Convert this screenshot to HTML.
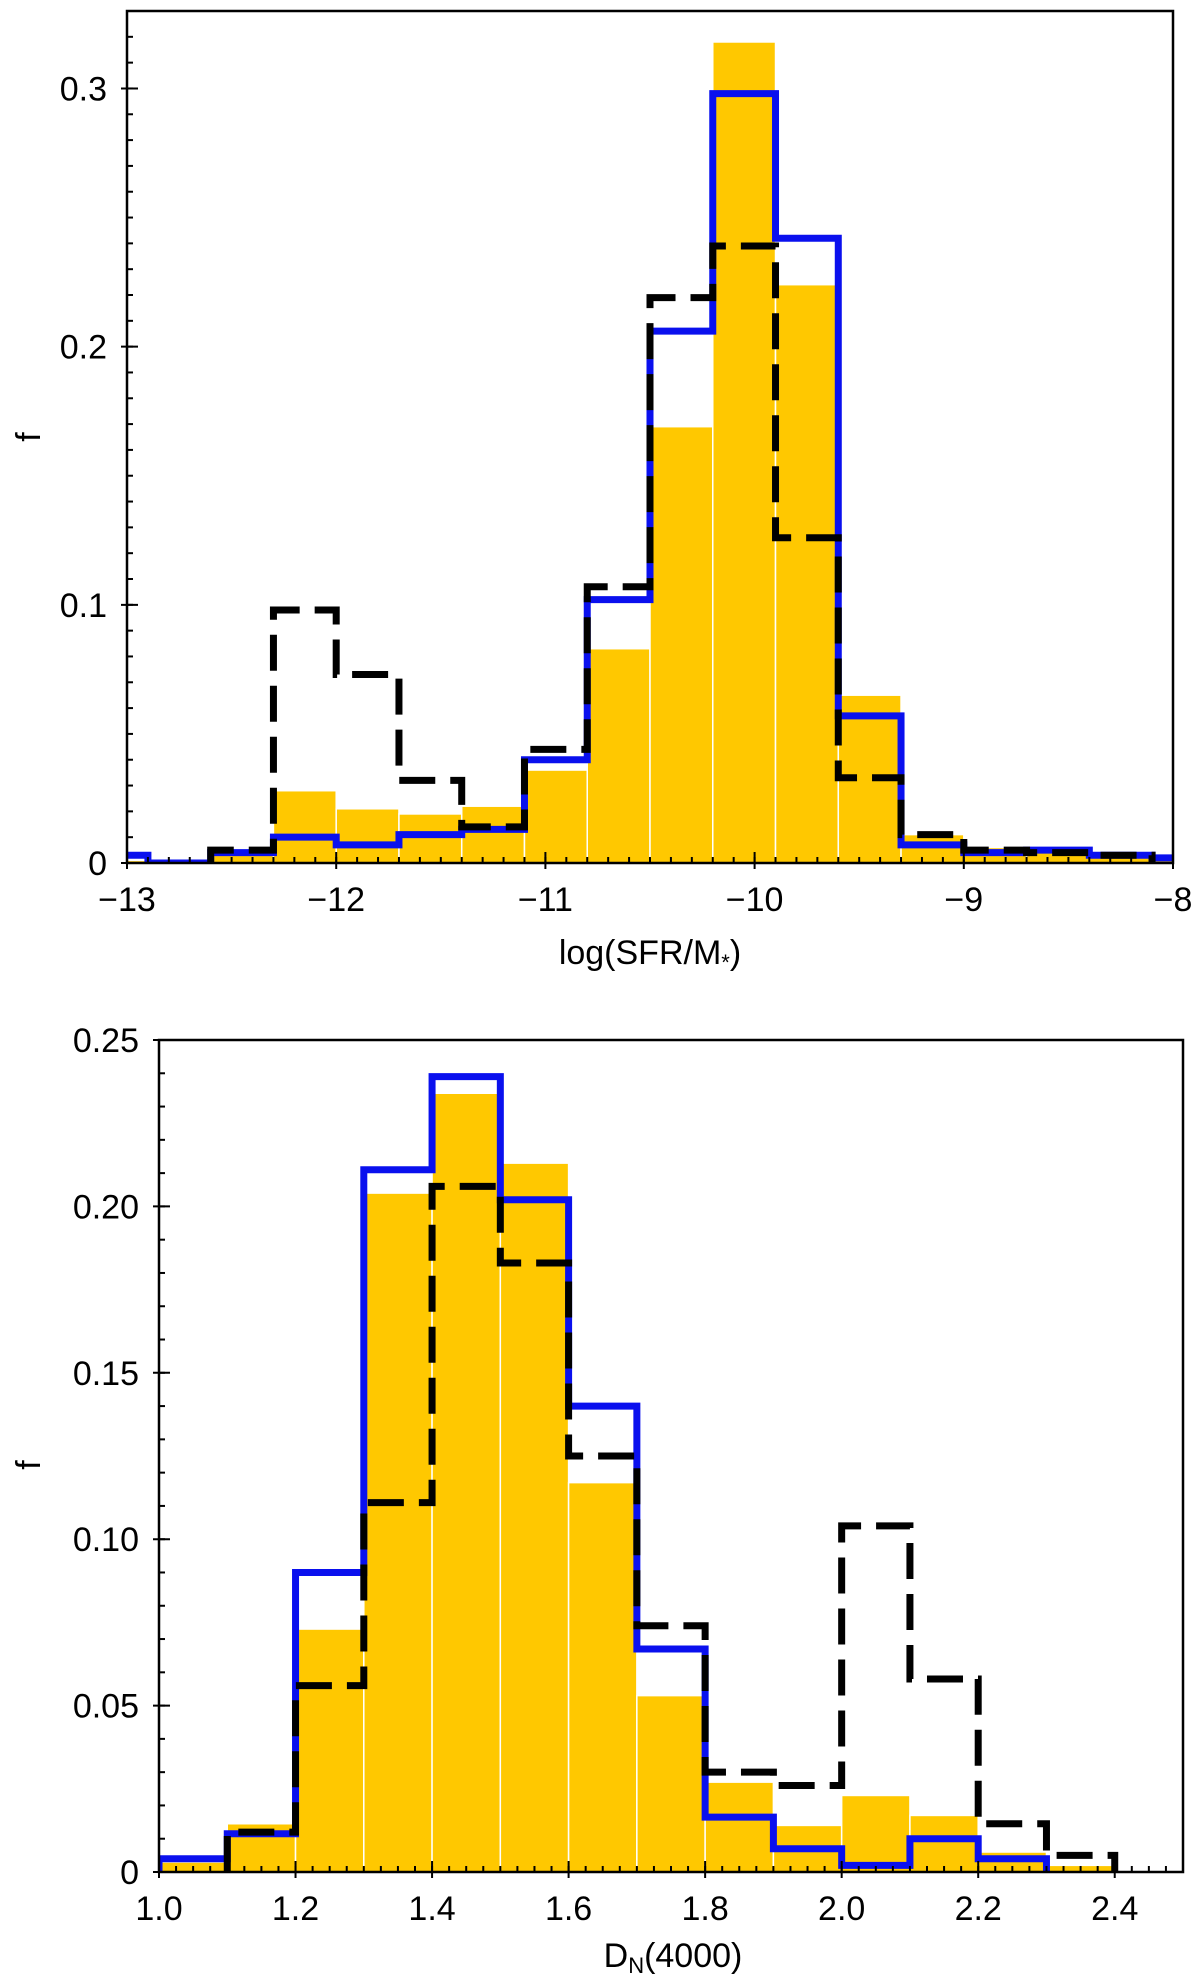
<!DOCTYPE html>
<html><head><meta charset="utf-8"><style>
html,body{margin:0;padding:0;background:#fff;}
svg{display:block;font-family:"Liberation Sans","DejaVu Sans",sans-serif;}
</style></head><body>
<svg id="chart" width="1200" height="1979" viewBox="0 0 1200 1979" xmlns="http://www.w3.org/2000/svg"></svg>
<script>
// ---- Panel 1 data: log(SFR/M*) ----
const ssfrEdgesStart = -13.2;
const ssfrBinWidth = 0.3;
const ssfrYellow = [0.001,0.001,0.003,0.028,0.021,0.019,0.022,0.036,0.083,0.169,0.318,0.224,0.065,0.011,0.006,0.004,0.003,0.002];
const ssfrBlue   = [0.003,0.000,0.004,0.010,0.007,0.011,0.013,0.040,0.102,0.206,0.298,0.242,0.057,0.007,0.004,0.005,0.003,0.002];
const ssfrBlackStart = -12.6;
const ssfrBlack  = [0.005,0.098,0.073,0.032,0.014,0.044,0.107,0.219,0.239,0.126,0.033,0.011,0.005,0.004,0.003];
const ssfrXTicks = [-13,-12,-11,-10,-9,-8];
const ssfrYTicks = [0,0.1,0.2,0.3];
const ssfrYTickLabels = ["0","0.1","0.2","0.3"];

// ---- Panel 2 data: D_N(4000) ----
const dnEdgesStart = 1.0;
const dnBinWidth = 0.1;
const dnYellow = [0.003,0.0145,0.073,0.204,0.234,0.213,0.117,0.053,0.027,0.014,0.023,0.017,0.006,0.002];
const dnBlue   = [0.004,0.0115,0.090,0.211,0.239,0.202,0.140,0.067,0.0165,0.007,0.002,0.010,0.004];
const dnBlackStart = 1.1;
const dnBlack  = [0.012,0.056,0.111,0.206,0.183,0.125,0.074,0.030,0.026,0.104,0.058,0.0145,0.005];
const dnXTicks = [1.0,1.2,1.4,1.6,1.8,2.0,2.2,2.4];
const dnXTickLabels = ["1.0","1.2","1.4","1.6","1.8","2.0","2.2","2.4"];
const dnYTicks = [0,0.05,0.10,0.15,0.20,0.25];
const dnYTickLabels = ["0","0.05","0.10","0.15","0.20","0.25"];

const NS = "http://www.w3.org/2000/svg";
const svg = document.getElementById('chart');
function mk(tag, attrs, parent){
  const e = document.createElementNS(NS, tag);
  for (const k in attrs) e.setAttribute(k, attrs[k]);
  (parent||svg).appendChild(e);
  return e;
}

function panel(o){
  const g = mk('g', {});
  
  
  const sx = v => o.L + (v - o.xmin) / (o.xmax - o.xmin) * (o.R - o.L);
  const sy = v => o.B - (v - o.ymin) / (o.ymax - o.ymin) * (o.B - o.T);
  const clipId = 'clip-' + o.name;
  const defs = mk('defs', {}, g);
  const cp = mk('clipPath', {id: clipId}, defs);
  mk('rect', {x:o.L, y:o.T, width:o.R-o.L, height:o.B-o.T}, cp);
  const plot = mk('g', {'clip-path':'url(#'+clipId+')'}, g);

  o.yellow.forEach((v,i)=>{
    const x0 = sx(o.start + i*o.bw), x1 = sx(o.start + (i+1)*o.bw);
    const r = mk('rect', {x:x0, y:sy(v), width:x1-x0, height:sy(0)-sy(v), fill:'#ffc800', stroke:'#ffffff', 'stroke-width':1.5}, plot);
    
    
  });
  function stepPath(vals, start){
    let d = 'M' + sx(start) + ' ' + sy(0);
    vals.forEach((v,i)=>{
      const x0 = sx(start + i*o.bw), x1 = sx(start + (i+1)*o.bw);
      d += ' L' + x0 + ' ' + sy(v) + ' L' + x1 + ' ' + sy(v);
    });
    d += ' L' + sx(start + vals.length*o.bw) + ' ' + sy(0);
    return d;
  }
  const bp = mk('path', {d:stepPath(o.blue, o.start), fill:'none', stroke:'#0a10ee', 'stroke-width':7, 'stroke-linejoin':'miter'}, plot);
  
  
  const kp = mk('path', {d:stepPath(o.black, o.blackStart), fill:'none', stroke:'#000', 'stroke-width':7, 'stroke-dasharray':'36 15'}, plot);
  
  

  const fr = mk('rect', {x:o.L, y:o.T, width:o.R-o.L, height:o.B-o.T, fill:'none', stroke:'#000', 'stroke-width':2.5}, g);
  
  

  const eps = 1e-9;
  for (let v = o.xmin; v <= o.xmax + eps; v += o.xminor){
    mk('line', {x1:sx(v), x2:sx(v), y1:o.B, y2:o.B-6, stroke:'#000', 'stroke-width':2}, g);
  }
  for (let v = o.ymin; v <= o.ymax + eps; v += o.yminor){
    mk('line', {x1:o.L, x2:o.L+6, y1:sy(v), y2:sy(v), stroke:'#000', 'stroke-width':2}, g);
  }
  o.xticks.forEach((v,i)=>{
    mk('line', {x1:sx(v), x2:sx(v), y1:o.B+6, y2:o.B-11, stroke:'#000', 'stroke-width':2}, g);
    const t = mk('text', {x:sx(v), y:o.B+48, 'text-anchor':'middle', 'font-size':34, fill:'#000'}, g);
    t.textContent = o.xlabels[i];
    
    
  });
  o.yticks.forEach((v,i)=>{
    mk('line', {x1:o.L-6, x2:o.L+11, y1:sy(v), y2:sy(v), stroke:'#000', 'stroke-width':2}, g);
    const t = mk('text', {x:o.L-20, y:sy(v)+12, 'text-anchor':'end', 'font-size':34, fill:'#000'}, g);
    t.textContent = o.ylabels[i];
    
    
  });
  return {g, sx, sy};
}

const p1 = panel({name:'ssfr-panel', L:127, R:1173, T:11, B:863, xmin:-13, xmax:-8, ymin:0, ymax:0.33,
  start:ssfrEdgesStart, bw:ssfrBinWidth, yellow:ssfrYellow, blue:ssfrBlue, black:ssfrBlack, blackStart:ssfrBlackStart,
  xticks:ssfrXTicks, xlabels:ssfrXTicks.map(v=>'\u2212'+Math.abs(v)), yticks:ssfrYTicks, ylabels:ssfrYTickLabels,
  xminor:0.1, yminor:0.01});
const p2 = panel({name:'dn4000-panel', L:159, R:1183, T:1040, B:1872, xmin:1.0, xmax:2.5, ymin:0, ymax:0.25,
  start:dnEdgesStart, bw:dnBinWidth, yellow:dnYellow, blue:dnBlue, black:dnBlack, blackStart:dnBlackStart,
  xticks:dnXTicks, xlabels:dnXTickLabels, yticks:dnYTicks, ylabels:dnYTickLabels,
  xminor:0.025, yminor:0.01});

const t1 = mk('text', {x:650, y:964, 'text-anchor':'middle', 'font-size':34});
t1.innerHTML = 'log(SFR/M<tspan font-size="22" dy="6">*</tspan><tspan dy="-6">)</tspan>';


const t2 = mk('text', {x:673, y:1967, 'text-anchor':'middle', 'font-size':34});
t2.innerHTML = 'D<tspan font-size="22" dy="6">N</tspan><tspan dy="-6">(4000)</tspan>';


const f1 = mk('text', {x:0, y:0, 'text-anchor':'middle', 'font-size':34, transform:'translate(40,437) rotate(-90)'});
f1.textContent = 'f';


const f2 = mk('text', {x:0, y:0, 'text-anchor':'middle', 'font-size':34, transform:'translate(40,1465) rotate(-90)'});
f2.textContent = 'f';


</script>
</body></html>
